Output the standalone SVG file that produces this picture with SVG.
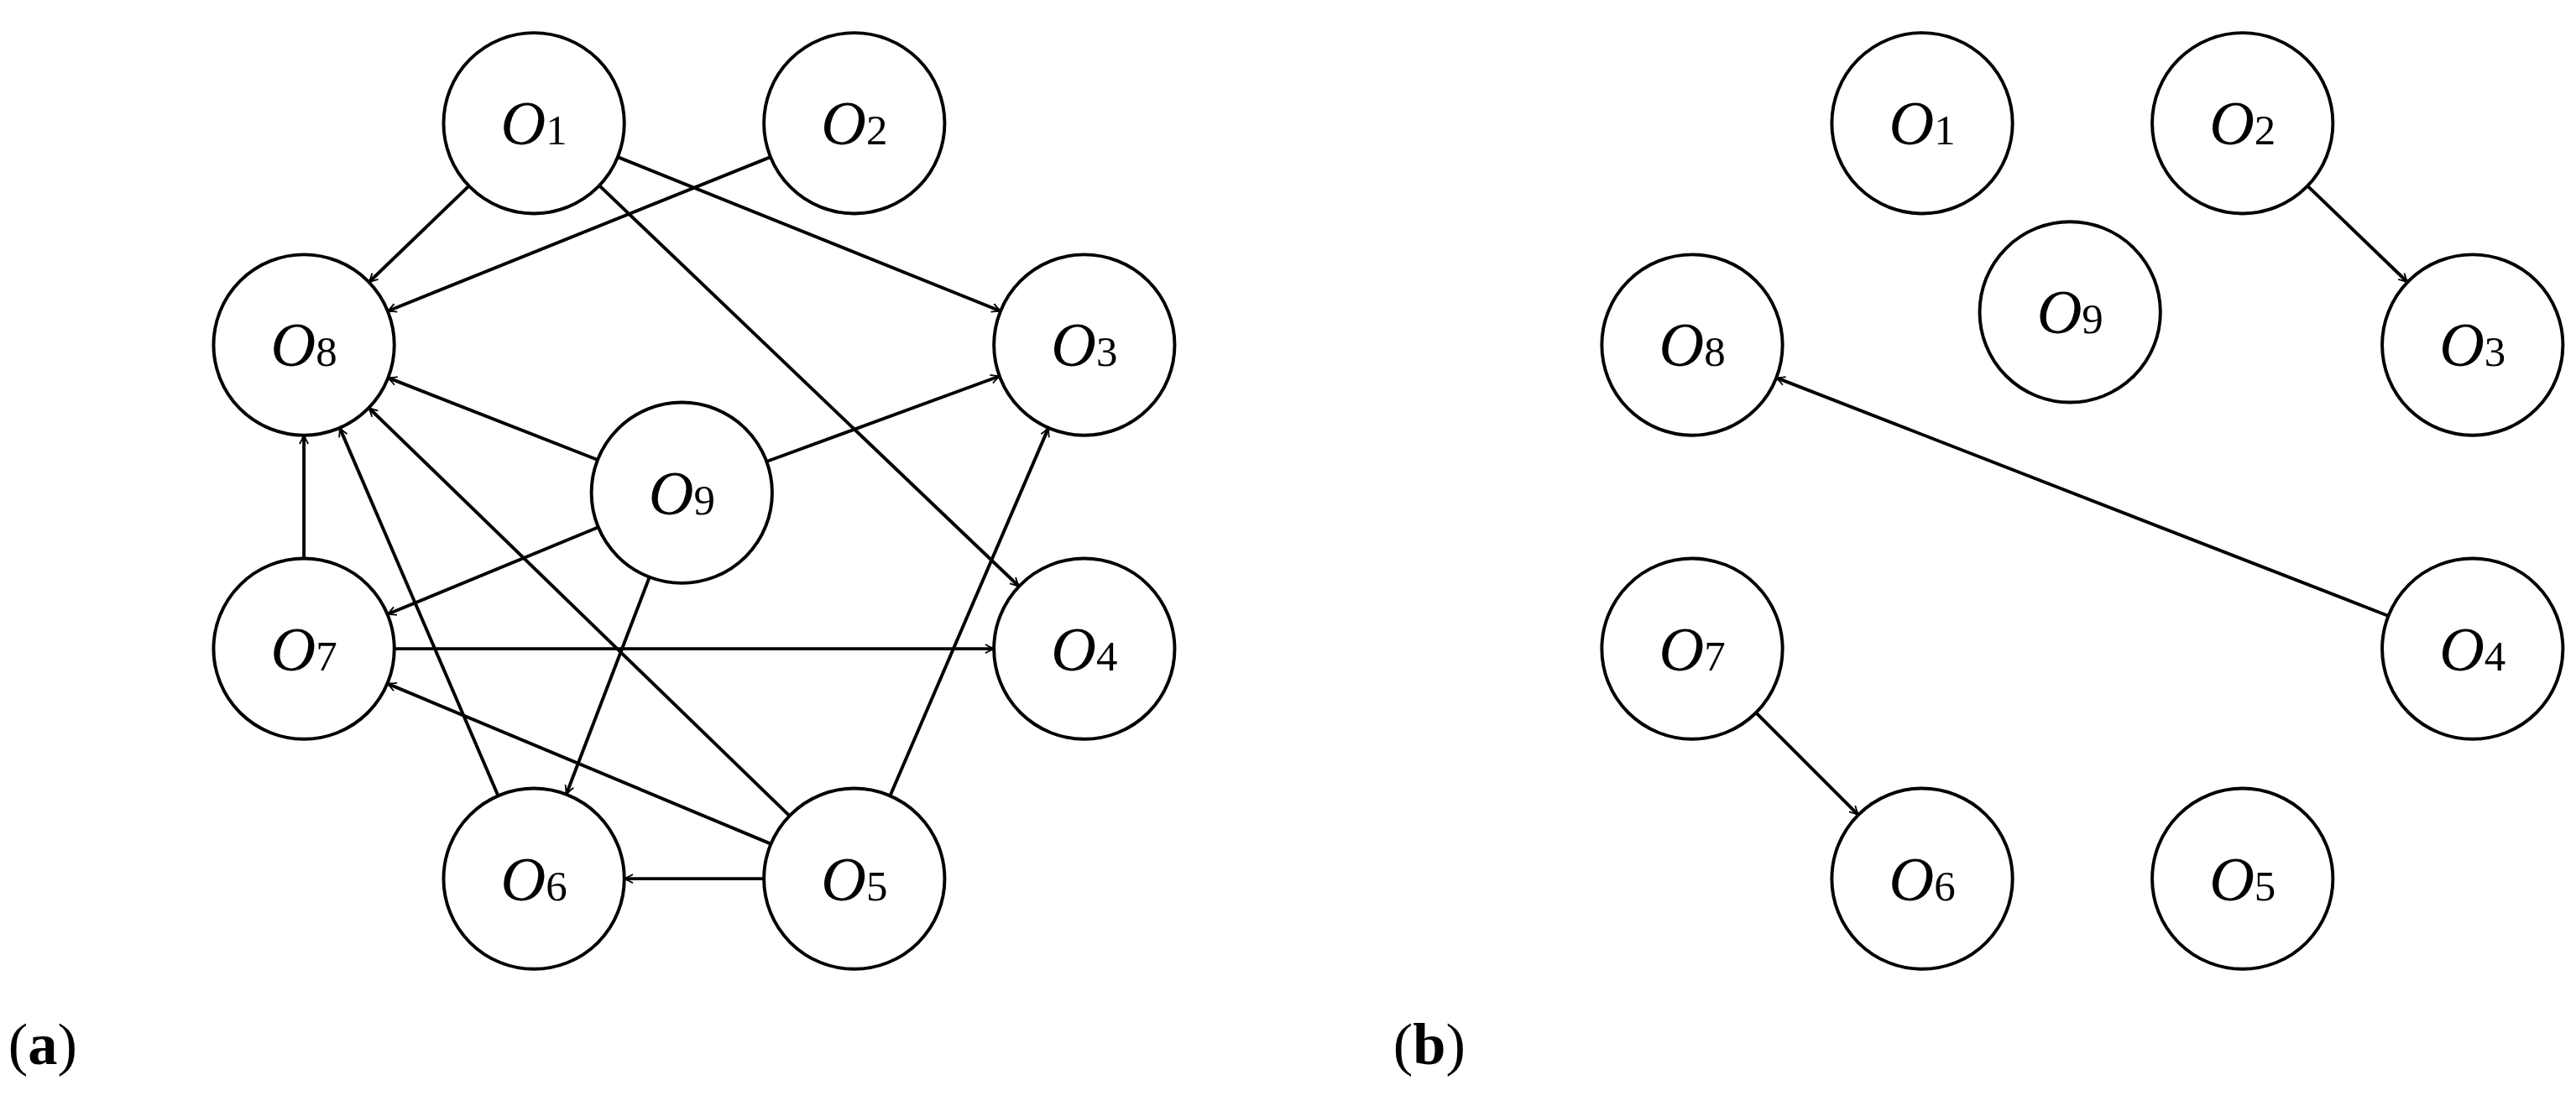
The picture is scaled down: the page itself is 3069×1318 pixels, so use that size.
<svg xmlns="http://www.w3.org/2000/svg" width="3069" height="1318" viewBox="0 0 3069 1318">
<style>
.n circle{fill:#fff;stroke:#000;stroke-width:2}
.n text{font-family:"Liberation Serif",serif;font-size:38px;font-style:italic;text-anchor:middle}
.n tspan{font-style:normal;font-size:26px}
.e line{stroke:#000;stroke-width:2;marker-end:url(#a)}
.lab{font-family:"Liberation Serif",serif;font-size:36px}
</style>
<defs>
<marker id="a" viewBox="0 0 12 12" refX="10" refY="6" markerWidth="7" markerHeight="7" orient="auto" markerUnits="userSpaceOnUse">
<path d="M1,1.5 Q6,4.5 10.5,6 Q6,7.5 1,10.5" fill="none" stroke="#000" stroke-width="1.6"/>
</marker>
</defs>
<rect width="3069" height="1318" fill="#fff"/>
<g transform="scale(1.9573)">
<g class="e" id="connectors">
<line x1="285.4" y1="113.2" x2="224.6" y2="171.8"/>
<line x1="469" y1="95.6" x2="236" y2="189.4"/>
<line x1="376" y1="95.6" x2="609" y2="189.4"/>
<line x1="364.8" y1="113" x2="620.2" y2="357"/>
<line x1="363.8" y1="280" x2="236.2" y2="230"/>
<line x1="466.6" y1="281" x2="608.4" y2="229"/>
<line x1="364.2" y1="321" x2="235.8" y2="374"/>
<line x1="395.3" y1="351.4" x2="344.7" y2="483.6"/>
<line x1="185" y1="340" x2="185" y2="265"/>
<line x1="240" y1="395" x2="605" y2="395"/>
<line x1="303.2" y1="484.5" x2="206.8" y2="260.5"/>
<line x1="480.5" y1="496.7" x2="224.5" y2="248.3"/>
<line x1="469.2" y1="513.8" x2="235.8" y2="416.2"/>
<line x1="541.8" y1="484.5" x2="638.2" y2="260.5"/>
<line x1="465" y1="535" x2="380" y2="535"/>
<line x1="1404.6" y1="113.2" x2="1465.4" y2="171.8"/>
<line x1="1068.9" y1="433.9" x2="1131.1" y2="496.1"/>
<line x1="1453.8" y1="375" x2="1081.2" y2="230"/>
</g>
<g class="n" id="a1"><circle cx="325" cy="75" r="55"/><text x="325" y="88">O<tspan>1</tspan></text></g>
<g class="n" id="a2"><circle cx="520" cy="75" r="55"/><text x="520" y="88">O<tspan>2</tspan></text></g>
<g class="n" id="a3"><circle cx="660" cy="210" r="55"/><text x="660" y="223">O<tspan>3</tspan></text></g>
<g class="n" id="a4"><circle cx="660" cy="395" r="55"/><text x="660" y="408">O<tspan>4</tspan></text></g>
<g class="n" id="a5"><circle cx="520" cy="535" r="55"/><text x="520" y="548">O<tspan>5</tspan></text></g>
<g class="n" id="a6"><circle cx="325" cy="535" r="55"/><text x="325" y="548">O<tspan>6</tspan></text></g>
<g class="n" id="a7"><circle cx="185" cy="395" r="55"/><text x="185" y="408">O<tspan>7</tspan></text></g>
<g class="n" id="a8"><circle cx="185" cy="210" r="55"/><text x="185" y="223">O<tspan>8</tspan></text></g>
<g class="n" id="a9"><circle cx="415" cy="300" r="55"/><text x="415" y="313">O<tspan>9</tspan></text></g>
<g class="n" id="b1"><circle cx="1170" cy="75" r="55"/><text x="1170" y="88">O<tspan>1</tspan></text></g>
<g class="n" id="b2"><circle cx="1365" cy="75" r="55"/><text x="1365" y="88">O<tspan>2</tspan></text></g>
<g class="n" id="b3"><circle cx="1505" cy="210" r="55"/><text x="1505" y="223">O<tspan>3</tspan></text></g>
<g class="n" id="b4"><circle cx="1505" cy="395" r="55"/><text x="1505" y="408">O<tspan>4</tspan></text></g>
<g class="n" id="b5"><circle cx="1365" cy="535" r="55"/><text x="1365" y="548">O<tspan>5</tspan></text></g>
<g class="n" id="b6"><circle cx="1170" cy="535" r="55"/><text x="1170" y="548">O<tspan>6</tspan></text></g>
<g class="n" id="b7"><circle cx="1030" cy="395" r="55"/><text x="1030" y="408">O<tspan>7</tspan></text></g>
<g class="n" id="b8"><circle cx="1030" cy="210" r="55"/><text x="1030" y="223">O<tspan>8</tspan></text></g>
<g class="n" id="b9"><circle cx="1260" cy="190" r="55"/><text x="1260" y="203">O<tspan>9</tspan></text></g>
<text class="lab" x="5" y="648">(<tspan font-weight="bold">a</tspan>)</text>
<text class="lab" x="848" y="648">(<tspan font-weight="bold">b</tspan>)</text>
</g>
</svg>
